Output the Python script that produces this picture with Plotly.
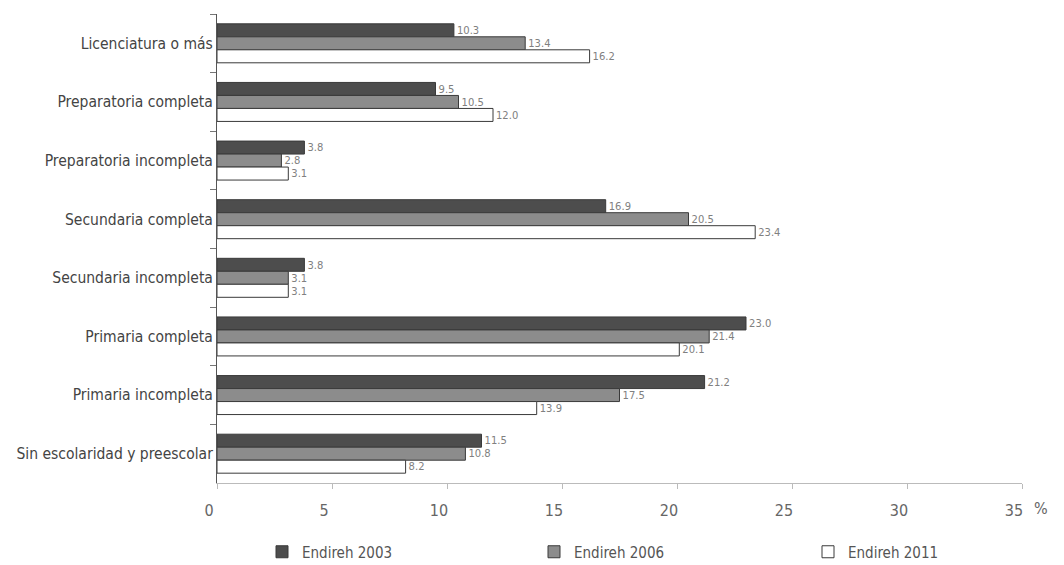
import plotly.graph_objects as go

# Education level categories, top to bottom
categories = [
    "Licenciatura o más",
    "Preparatoria completa",
    "Preparatoria incompleta",
    "Secundaria completa",
    "Secundaria incompleta",
    "Primaria completa",
    "Primaria incompleta",
    "Sin escolaridad y preescolar",
]

# Percentages per survey round
endireh_2003 = [10.3, 9.5, 3.8, 16.9, 3.8, 23.0, 21.2, 11.5]
endireh_2006 = [13.4, 10.5, 2.8, 20.5, 3.1, 21.4, 17.5, 10.8]
endireh_2011 = [16.2, 12.0, 3.1, 23.4, 3.1, 20.1, 13.9, 8.2]

series_names = ["Endireh 2003", "Endireh 2006", "Endireh 2011"]
x_ticks = [0, 5, 10, 15, 20, 25, 30, 35]

FONT = "DejaVu Sans Condensed, Open Sans, sans-serif"
fills = ["#4d4d4d", "#8c8c8c", "#ffffff"]
outline = "#3a3a3a"
legend_ids = ["legend", "legend2", "legend3"]
legend_x = [262, 534, 808]  # left edge of each legend entry, px

fig = go.Figure()
for name, vals, fill, lid in zip(series_names, [endireh_2003, endireh_2006, endireh_2011], fills, legend_ids):
    fig.add_trace(go.Bar(
        name=name,
        y=categories,
        x=vals,
        orientation="h",
        legend=lid,
        marker=dict(color=fill, line=dict(color=outline, width=1)),
        text=[f"{v:.1f}" for v in vals],
        textposition="outside",
        cliponaxis=False,
        textfont=dict(family=FONT, size=12, color="#808080"),
        hoverinfo="skip",
    ))

fig.add_annotation(
    x=35, y=0, xref="x", yref="paper", yanchor="top",
    text="%", showarrow=False, xshift=19, yshift=-14,
    font=dict(family=FONT, size=16, color="#666666"),
)

legend_style = dict(
    xref="container", yref="container", xanchor="left", yanchor="middle",
    y=1 - 552 / 565, orientation="h", itemwidth=30, bgcolor="rgba(0,0,0,0)",
    font=dict(family=FONT, size=15, color="#555555"),
)
layout_legends = {
    lid: dict(legend_style, x=lx / 1064) for lid, lx in zip(legend_ids, legend_x)
}

fig.update_layout(
    width=1064, height=565,
    margin=dict(l=217, r=42, t=14, b=82, autoexpand=False),
    paper_bgcolor="white", plot_bgcolor="white",
    barmode="group", bargap=0.335, bargroupgap=0,
    font=dict(family=FONT, color="#555555"),
    showlegend=True,
    xaxis=dict(
        range=[0, 35], tickvals=x_ticks, ticktext=[str(t) for t in x_ticks],
        showgrid=False, zeroline=False,
        showline=True, linecolor="#bbbbbb", linewidth=1,
        ticks="outside", ticklen=5, tickcolor="#bbbbbb",
        tickfont=dict(family=FONT, size=16, color="#666666"),
        ticklabelshift=-8, ticklabelstandoff=8,
    ),
    yaxis=dict(
        autorange="reversed", showgrid=False, zeroline=False,
        showline=True, linecolor="#555555", linewidth=1,
        ticks="outside", ticklen=6, tickcolor="#777777", tickson="boundaries",
        tickfont=dict(family=FONT, size=15.5, color="#444444"),
    ),
    **layout_legends,
)

fig.write_html("out.html")
